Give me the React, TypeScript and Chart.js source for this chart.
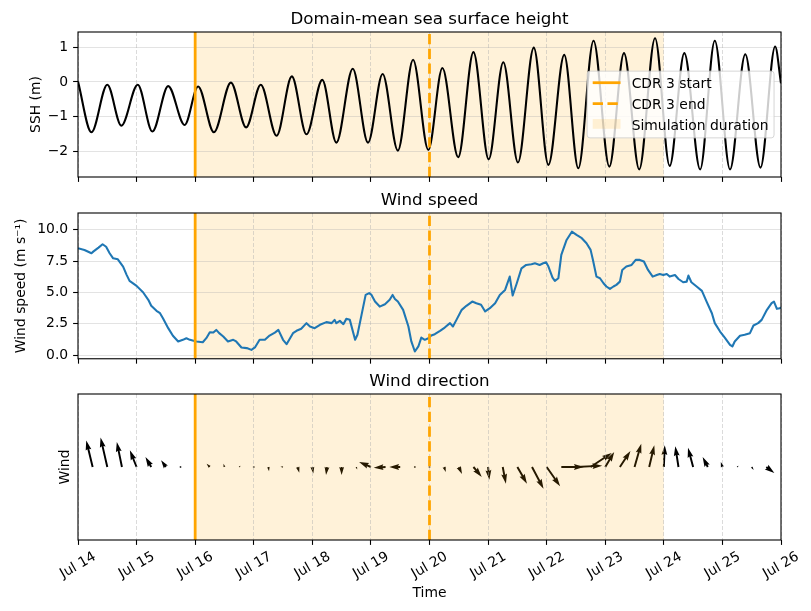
import React, { useEffect, useRef } from "react";
import { Chart, registerables } from "chart.js";

Chart.register(...registerables);

/* ------------------------------------------------------------------ */
/* Data (x values are days since Jul 14 00:00)                        */
/* ------------------------------------------------------------------ */

const dayTicks = [0, 1, 2, 3, 4, 5, 6, 7, 8, 9, 10, 11, 12];
const dayLabels = [
  "Jul 14", "Jul 15", "Jul 16", "Jul 17", "Jul 18", "Jul 19", "Jul 20",
  "Jul 21", "Jul 22", "Jul 23", "Jul 24", "Jul 25", "Jul 26",
];

const cdrStartDay = 2; // CDR 3 start, Jul 16
const cdrEndDay = 6; // CDR 3 end, Jul 20
const simEndDay = 10; // end of the simulation, Jul 24

const sshTicks = [-2, -1, 0, 1];
const windTicks = [0, 2.5, 5, 7.5, 10];

// Domain-mean sea surface height: tidal highs and lows (m)
const sshDays = [
  0, 0.23, 0.5, 0.74, 1.02, 1.27, 1.54, 1.82, 2.05, 2.32, 2.61, 2.87, 3.12,
  3.39, 3.65, 3.9, 4.17, 4.41, 4.69, 4.95, 5.2, 5.46, 5.72, 5.98, 6.22, 6.49,
  6.75, 7.01, 7.26, 7.51, 7.78, 8.03, 8.3, 8.54, 8.8, 9.07, 9.32, 9.58, 9.85,
  10.1, 10.35, 10.62, 10.87, 11.13, 11.39, 11.65, 11.9, 12.0,
];
const sshMetres = [
  0.01, -1.45, -0.08, -1.26, -0.08, -1.43, -0.12, -1.24, -0.13, -1.45, -0.02,
  -1.31, -0.08, -1.55, 0.16, -1.51, 0.06, -1.75, 0.38, -1.75, 0.23, -1.98,
  0.64, -1.96, 0.4, -2.17, 0.86, -2.23, 0.57, -2.32, 0.99, -2.39, 0.78, -2.49,
  1.19, -2.44, 0.83, -2.52, 1.26, -2.42, 0.83, -2.52, 1.19, -2.52, 0.8, -2.47,
  1.02, -0.04,
];

// Wind speed (m s-1)
const windDays = [
  0, 0.11, 0.23, 0.26, 0.35, 0.42, 0.48, 0.54, 0.6, 0.68,
  0.77, 0.83, 0.88, 1.0, 1.11, 1.2, 1.25, 1.34, 1.4, 1.45,
  1.54, 1.62, 1.71, 1.79, 1.85, 1.91, 2.02, 2.13, 2.19, 2.25,
  2.31, 2.36, 2.41, 2.48, 2.56, 2.65, 2.7, 2.79, 2.88, 2.96,
  3.02, 3.1, 3.19, 3.27, 3.36, 3.42, 3.5, 3.56, 3.62, 3.67,
  3.73, 3.81, 3.9, 3.96, 4.04, 4.13, 4.24, 4.33, 4.38, 4.41,
  4.47, 4.53, 4.58, 4.64, 4.73, 4.77, 4.84, 4.91, 4.97, 5.01,
  5.07, 5.15, 5.24, 5.32, 5.37, 5.41, 5.46, 5.55, 5.64, 5.69,
  5.75, 5.81, 5.86, 5.92, 5.98, 6.03, 6.09, 6.18, 6.26, 6.35,
  6.4, 6.46, 6.55, 6.63, 6.73, 6.8, 6.88, 6.95, 7.03, 7.12,
  7.2, 7.29, 7.37, 7.42, 7.49, 7.57, 7.65, 7.74, 7.8, 7.88,
  7.94, 7.99, 8.03, 8.1, 8.14, 8.2, 8.25, 8.34, 8.43, 8.51,
  8.6, 8.68, 8.75, 8.79, 8.85, 8.91, 8.97, 9.02, 9.08, 9.14,
  9.19, 9.25, 9.29, 9.36, 9.45, 9.52, 9.59, 9.66, 9.73, 9.81,
  9.88, 9.93, 9.99, 10.05, 10.1, 10.19, 10.25, 10.33, 10.39, 10.42,
  10.47, 10.56, 10.65, 10.73, 10.82, 10.87, 10.96, 11.04, 11.13, 11.17,
  11.21, 11.3, 11.38, 11.47, 11.53, 11.61, 11.67, 11.76, 11.84, 11.88,
  11.93, 11.98, 12.0,
];
const windSpeed = [
  8.52, 8.38, 8.12, 8.25, 8.57, 8.84, 8.64, 8.12, 7.72, 7.64,
  7.06, 6.4, 5.92, 5.52, 5.01, 4.41, 3.93, 3.53, 3.34, 2.94,
  2.15, 1.54, 1.09, 1.22, 1.35, 1.22, 1.09, 1.03, 1.35, 1.83,
  1.8, 2.01, 1.75, 1.48, 1.09, 1.22, 1.09, 0.61, 0.56, 0.42,
  0.61, 1.22, 1.22, 1.56, 1.8, 2.01, 1.22, 0.87, 1.35, 1.75,
  1.94, 2.1, 2.55, 2.28, 2.15, 2.42, 2.63, 2.55, 2.81, 2.55,
  2.73, 2.47, 2.89, 2.81, 1.22, 1.62, 3.21, 4.8, 4.94, 4.8,
  4.27, 3.87, 4.06, 4.41, 4.8, 4.48, 4.27, 3.61, 2.28, 1.09,
  0.29, 0.69, 1.4, 1.22, 1.35, 1.56, 1.67, 1.94, 2.2, 2.55,
  2.28, 2.81, 3.61, 3.93, 4.27, 4.14, 4.01, 3.48, 3.74, 4.14,
  4.8, 5.2, 6.26, 4.75, 5.73, 6.92, 7.19, 7.25, 7.32, 7.19,
  7.32, 7.4, 7.06, 6.18, 5.92, 6.13, 7.99, 9.18, 9.84, 9.58,
  9.32, 8.92, 8.39, 7.59, 6.26, 6.13, 5.73, 5.47, 5.28, 5.47,
  5.6, 5.86, 6.79, 7.06, 7.19, 7.59, 7.59, 7.46, 6.79, 6.26,
  6.39, 6.47, 6.39, 6.47, 6.26, 6.39, 6.07, 5.81, 5.86, 6.34,
  5.81, 5.47, 5.12, 4.27, 3.34, 2.55, 1.88, 1.4, 0.82, 0.69,
  1.09, 1.54, 1.62, 1.75, 2.36, 2.55, 2.81, 3.61, 4.14, 4.27,
  3.69, 3.74, 3.8,
];

// Six-hourly wind vectors (eastward u, northward v, m s-1)
const arrowDays = [
  0.25, 0.5, 0.75, 1, 1.25, 1.5, 1.75, 2, 2.25, 2.5, 2.75, 3, 3.25, 3.5, 3.75,
  4, 4.25, 4.5, 4.75, 5, 5.25, 5.5, 5.75, 6, 6.25, 6.5, 6.75, 7, 7.25, 7.5,
  7.75, 8, 8.25, 8.5, 8.75, 9, 9.25, 9.5, 9.75, 10, 10.25, 10.5, 10.75, 11,
  11.25, 11.5, 11.75,
];
const windU = [
  -2.0, -2.1, -1.6, -2.1, -1.8, -1.5, -0.6, -0.3, -1.0, -0.3, 0.5, 0.3, 0.2,
  -0.8, 0.5, 0.3, -0.3, 0.0, 0.3, -3.7, -3.7, -3.4, -0.4, -0.3, 0.5, 1.0, 2.6,
  0.4, 1.0, 3.0, 3.6, 4.2, 7.0, 8.2, 6.6, 2.8, 3.3, 2.1, 1.6, 0.3, -1.0, -1.6,
  -1.6, -0.5, 0.5, 0.6, 2.5,
];
const windV = [
  8.3, 9.2, 7.8, 5.2, 3.1, 2.1, 0.1, 0.1, 1.0, 1.0, 0.4, 0.1, -1.3, 0.1, -1.8,
  -2.0, -2.5, -2.5, -0.8, 1.6, -0.2, 0.0, 0.0, 0.3, -1.6, -2.2, -3.1, -4.0,
  -5.2, -5.2, -6.8, -6.0, 0.0, 0.4, 4.4, 4.7, 5.0, 7.3, 6.8, 6.8, 6.5, 6.0,
  3.1, 1.6, 0.4, -0.9, -1.9,
];

/* ------------------------------------------------------------------ */
/* Styling                                                             */
/* ------------------------------------------------------------------ */

const FIG_W = 811;
const FIG_H = 611;
const AX_LEFT = 78;
const AX_RIGHT = 781;
const FONT = '"DejaVu Sans", "Liberation Sans", sans-serif';
const FS = 13.9;
const TITLE_FS = 16.7;
const ORANGE = "#ffa500";
const SPAN_FILL = "rgba(255,165,0,0.15)";
const GRID_H = "rgba(176,176,176,0.35)";
const GRID_V = "rgba(176,176,176,0.45)";
const TICK_LEN = 4.9;
const TICK_PAD = 4.9;
const TICK_W = 1.1;
const QUIVER_PX_PER_MS = 3.2;
const QUIVER_WIDTH = 1.95;

type Layout = { top: number; height: number; axTop: number; axBottom: number };
const sshLayout: Layout = { top: 0, height: 192, axTop: 32, axBottom: 177 };
const windLayout: Layout = { top: 192, height: 180, axTop: 21, axBottom: 167 };
const dirLayout: Layout = { top: 372, height: 239, axTop: 22, axBottom: 168 };

const toPoints = (xs: number[], ys: number[]) => xs.map((x, i) => ({ x, y: ys[i] }));

/* ------------------------------------------------------------------ */
/* Scales                                                              */
/* ------------------------------------------------------------------ */

function xScaleOptions(layout: Layout, title?: string) {
  return {
    type: "linear",
    min: dayTicks[0],
    max: dayTicks[dayTicks.length - 1],
    afterBuildTicks: (s: any) => {
      s.ticks = dayTicks.map((value) => ({ value }));
    },
    afterFit: (s: any) => {
      s.height = layout.height - layout.axBottom;
    },
    ticks: { display: false },
    grid: {
      color: GRID_V,
      lineWidth: 1,
      drawTicks: true,
      tickLength: TICK_LEN,
      tickColor: "#000",
      tickWidth: TICK_W,
      tickBorderDash: [],
    },
    border: { display: false, dash: [4, 2] },
    title: title
      ? {
          display: true,
          text: title,
          color: "#000",
          font: { family: FONT, size: FS },
          padding: { top: 0, bottom: 18 - (FS * 1.2) / 2 },
        }
      : { display: false },
  };
}

function yScaleOptions(o: {
  min: number;
  max: number;
  ticks: number[];
  showTicks: boolean;
  fmt?: (v: number) => string;
  title: string;
  titleX: number;
}) {
  return {
    type: "linear",
    min: o.min,
    max: o.max,
    afterBuildTicks: (s: any) => {
      s.ticks = o.ticks.map((value) => ({ value }));
    },
    afterFit: (s: any) => {
      s.width = AX_LEFT;
    },
    ticks: {
      display: o.showTicks,
      autoSkip: false,
      color: "#000",
      font: { family: FONT, size: FS },
      padding: TICK_PAD,
      callback: (v: any) => (o.fmt ? o.fmt(Number(v)) : String(v)),
    },
    grid: {
      display: o.showTicks,
      color: GRID_H,
      lineWidth: 1,
      drawTicks: true,
      tickLength: TICK_LEN,
      tickColor: "#000",
      tickWidth: TICK_W,
    },
    border: { display: false },
    title: {
      display: true,
      text: o.title,
      color: "#000",
      font: { family: FONT, size: FS },
      padding: { top: o.titleX - (FS * 1.2) / 2, bottom: 0 },
    },
  };
}

/* ------------------------------------------------------------------ */
/* Drawing helpers                                                     */
/* ------------------------------------------------------------------ */

// Quiver-style arrow, tail at (x0, y0); geometry in units of the shaft width.
function drawArrow(ctx: CanvasRenderingContext2D, x0: number, y0: number, dx: number, dy: number, w: number) {
  const len = Math.hypot(dx, dy) / w;
  const ang = Math.atan2(dy, dx);
  const cos = Math.cos(ang);
  const sin = Math.sin(ang);
  ctx.beginPath();
  if (len < 1) {
    for (let k = 0; k < 6; k++) {
      const th = (k * Math.PI) / 3;
      const px = x0 + Math.cos(th) * 0.5 * w;
      const py = y0 + Math.sin(th) * 0.5 * w;
      if (k === 0) ctx.moveTo(px, py);
      else ctx.lineTo(px, py);
    }
    ctx.closePath();
    ctx.fill();
    return;
  }
  let X: number[];
  let Y = [0.5, 0.5, 1.5, 0, -1.5, -0.5, -0.5];
  if (len >= 5) {
    X = [0, len - 4.5, len - 5, len, len - 5, len - 4.5, 0];
  } else {
    const s = len / 5;
    X = [0, 0.5, 0, 5, 0, 0.5, 0].map((v) => v * s);
    Y = Y.map((v) => v * s);
  }
  X.forEach((xv, k) => {
    const px = x0 + w * (xv * cos - Y[k] * sin);
    const py = y0 + w * (xv * sin + Y[k] * cos);
    if (k === 0) ctx.moveTo(px, py);
    else ctx.lineTo(px, py);
  });
  ctx.closePath();
  ctx.fill();
}

function drawQuiver(ctx: CanvasRenderingContext2D, xs: any, ys: any) {
  ctx.fillStyle = "#000";
  const y0 = ys.getPixelForValue(0);
  arrowDays.forEach((d, i) => {
    const x0 = xs.getPixelForValue(d);
    drawArrow(ctx, x0, y0, windU[i] * QUIVER_PX_PER_MS, -windV[i] * QUIVER_PX_PER_MS, QUIVER_WIDTH);
  });
}

function drawLegend(ctx: CanvasRenderingContext2D, a: any) {
  const labels = ["CDR 3 start", "CDR 3 end", "Simulation duration"];
  ctx.save();
  ctx.font = `${FS}px ${FONT}`;
  const textW = Math.max(...labels.map((l) => ctx.measureText(l).width));
  const pad = 0.4 * FS;
  const handleLen = 2 * FS;
  const handlePad = 0.8 * FS;
  const gap = 0.5 * FS;
  const boxW = 2 * pad + handleLen + handlePad + textW;
  const boxH = 2 * pad + 3 * FS + 2 * gap;
  const right = a.right - 0.5 * FS;
  const left = right - boxW;
  const top = (a.top + a.bottom) / 2 - boxH / 2;

  ctx.beginPath();
  ctx.roundRect(left, top, boxW, boxH, 2.8);
  ctx.fillStyle = "rgba(255,255,255,0.8)";
  ctx.fill();
  ctx.strokeStyle = "rgba(204,204,204,0.8)";
  ctx.lineWidth = 1;
  ctx.stroke();

  const hx = left + pad;
  const tx = hx + handleLen + handlePad;
  labels.forEach((label, i) => {
    const cy = top + pad + 6 + i * (FS + gap);
    if (i < 2) {
      ctx.save();
      ctx.strokeStyle = ORANGE;
      ctx.lineWidth = 2.78;
      ctx.setLineDash(i === 1 ? [10.3, 4.45] : []);
      ctx.beginPath();
      ctx.moveTo(hx, cy);
      ctx.lineTo(hx + handleLen, cy);
      ctx.stroke();
      ctx.restore();
    } else {
      const hh = 0.7 * FS;
      ctx.fillStyle = SPAN_FILL;
      ctx.fillRect(hx, cy - hh / 2 - 0.5, handleLen, hh);
    }
    ctx.fillStyle = "#000";
    ctx.textAlign = "left";
    ctx.textBaseline = "alphabetic";
    ctx.fillText(label, tx, cy + 5.1);
  });
  ctx.restore();
}

function drawDayLabels(ctx: CanvasRenderingContext2D, xs: any, a: any) {
  const rot = Math.PI / 6;
  const h = 0.968 * FS;
  ctx.save();
  ctx.font = `${FS}px ${FONT}`;
  ctx.fillStyle = "#000";
  ctx.textAlign = "center";
  ctx.textBaseline = "alphabetic";
  dayTicks.forEach((d, i) => {
    const label = dayLabels[i];
    const w = ctx.measureText(label).width;
    const boxH = w * Math.sin(rot) + h * Math.cos(rot);
    const cx = xs.getPixelForValue(d);
    const cy = a.bottom + TICK_LEN + TICK_PAD + boxH / 2;
    ctx.save();
    ctx.translate(cx, cy);
    ctx.rotate(-rot);
    ctx.fillText(label, 0, 0.276 * FS);
    ctx.restore();
  });
  ctx.restore();
}

function panelPlugin(cfg: { title: string; quiver?: boolean; legend?: boolean; dayLabels?: boolean }) {
  return {
    id: "panelDecor",
    beforeDraw(chart: any) {
      const { ctx, chartArea: a } = chart;
      const xs = chart.scales.x;
      const ys = chart.scales.y;
      ctx.save();
      ctx.fillStyle = "#fff";
      ctx.fillRect(0, 0, chart.width, chart.height);
      if (cfg.quiver) drawQuiver(ctx, xs, ys);
      const x0 = xs.getPixelForValue(cdrStartDay);
      const x1 = xs.getPixelForValue(simEndDay);
      ctx.fillStyle = SPAN_FILL;
      ctx.fillRect(x0, a.top, x1 - x0, a.bottom - a.top);
      ctx.restore();
    },
    afterDatasetsDraw(chart: any) {
      const { ctx, chartArea: a } = chart;
      const xs = chart.scales.x;

      // CDR start / end markers
      ctx.save();
      ctx.beginPath();
      ctx.rect(a.left, a.top, a.right - a.left, a.bottom - a.top);
      ctx.clip();
      ctx.strokeStyle = ORANGE;
      ctx.lineWidth = 2.78;
      const xStart = xs.getPixelForValue(cdrStartDay);
      ctx.beginPath();
      ctx.moveTo(xStart, a.bottom);
      ctx.lineTo(xStart, a.top);
      ctx.stroke();
      const xEnd = xs.getPixelForValue(cdrEndDay);
      ctx.setLineDash([10.3, 4.45]);
      ctx.beginPath();
      ctx.moveTo(xEnd, a.bottom);
      ctx.lineTo(xEnd, a.top);
      ctx.stroke();
      ctx.restore();

      // axes frame
      ctx.save();
      ctx.strokeStyle = "#000";
      ctx.lineWidth = TICK_W;
      ctx.strokeRect(a.left, a.top, a.right - a.left, a.bottom - a.top);
      ctx.restore();

      // panel title
      ctx.save();
      ctx.font = `${TITLE_FS}px ${FONT}`;
      ctx.fillStyle = "#000";
      ctx.textAlign = "center";
      ctx.textBaseline = "alphabetic";
      ctx.fillText(cfg.title, (a.left + a.right) / 2, a.top - 8.33);
      ctx.restore();

      if (cfg.legend) drawLegend(ctx, a);
      if (cfg.dayLabels) drawDayLabels(ctx, xs, a);
    },
  };
}

function baseOptions(layout: Layout, y: any, xTitle?: string) {
  return {
    animation: false,
    responsive: false,
    devicePixelRatio: 1,
    events: [],
    layout: { padding: { left: 0, right: FIG_W - AX_RIGHT, top: layout.axTop, bottom: 0 } },
    plugins: { legend: { display: false }, tooltip: { enabled: false }, title: { display: false } },
    scales: { x: xScaleOptions(layout, xTitle), y },
  } as any;
}

/* ------------------------------------------------------------------ */
/* Charts                                                              */
/* ------------------------------------------------------------------ */

function createSshChart(canvas: HTMLCanvasElement) {
  return new Chart(canvas, {
    type: "line",
    data: {
      datasets: [
        {
          data: toPoints(sshDays, sshMetres),
          borderColor: "#000",
          borderWidth: 2.08,
          pointRadius: 0,
          fill: false,
          cubicInterpolationMode: "monotone",
          borderJoinStyle: "round",
        } as any,
      ],
    },
    options: baseOptions(
      sshLayout,
      yScaleOptions({
        min: -2.74,
        max: 1.44,
        ticks: sshTicks,
        showTicks: true,
        fmt: (v) => (v < 0 ? "\u2212" + Math.abs(v) : String(v)),
        title: "SSH (m)",
        titleX: 36,
      })
    ),
    plugins: [panelPlugin({ title: "Domain-mean sea surface height", legend: true })],
  });
}

function createWindChart(canvas: HTMLCanvasElement) {
  return new Chart(canvas, {
    type: "line",
    data: {
      datasets: [
        {
          data: toPoints(windDays, windSpeed),
          borderColor: "#1f77b4",
          borderWidth: 2.08,
          pointRadius: 0,
          fill: false,
          borderJoinStyle: "round",
        } as any,
      ],
    },
    options: baseOptions(
      windLayout,
      yScaleOptions({
        min: -0.29,
        max: 11.33,
        ticks: windTicks,
        showTicks: true,
        fmt: (v) => v.toFixed(1),
        title: "Wind speed (m s\u207B\u00B9)",
        titleX: 21,
      })
    ),
    plugins: [panelPlugin({ title: "Wind speed" })],
  });
}

function createDirectionChart(canvas: HTMLCanvasElement) {
  return new Chart(canvas, {
    type: "line",
    data: { datasets: [] },
    options: baseOptions(
      dirLayout,
      yScaleOptions({
        min: -1,
        max: 1,
        ticks: [-1, 0, 1],
        showTicks: false,
        title: "Wind",
        titleX: 65,
      }),
      "Time"
    ),
    plugins: [panelPlugin({ title: "Wind direction", quiver: true, dayLabels: true })],
  });
}

function PanelCanvas({ layout, create }: { layout: Layout; create: (c: HTMLCanvasElement) => Chart }) {
  const ref = useRef<HTMLCanvasElement | null>(null);
  useEffect(() => {
    if (!ref.current) return;
    const chart = create(ref.current);
    return () => chart.destroy();
  }, [create]);
  return (
    <canvas
      ref={ref}
      width={FIG_W}
      height={layout.height}
      style={{ position: "absolute", left: 0, top: layout.top, width: FIG_W, height: layout.height, display: "block" }}
    />
  );
}

export default function App() {
  return (
    <div style={{ position: "absolute", left: 0, top: 0, width: FIG_W, height: FIG_H, background: "#fff", overflow: "hidden" }}>
      <PanelCanvas layout={sshLayout} create={createSshChart} />
      <PanelCanvas layout={windLayout} create={createWindChart} />
      <PanelCanvas layout={dirLayout} create={createDirectionChart} />
    </div>
  );
}
